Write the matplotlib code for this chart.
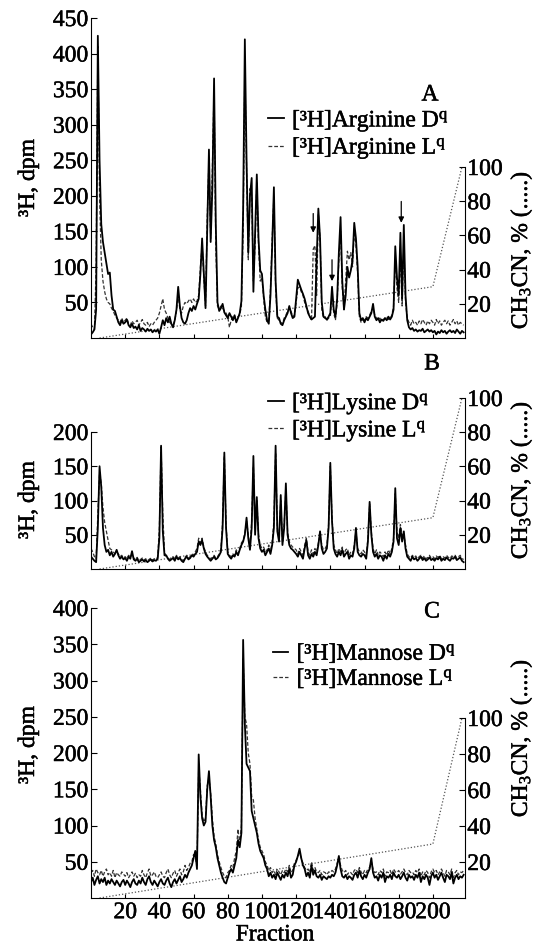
import numpy as np
import matplotlib
matplotlib.use("Agg")
import matplotlib.pyplot as plt
import matplotlib.patheffects as pe

plt.rcParams['font.family'] = ['Liberation Serif', 'DejaVu Serif']
plt.rcParams['mathtext.fontset'] = 'custom'
plt.rcParams['mathtext.rm'] = 'Liberation Serif'
plt.rcParams['mathtext.it'] = 'Liberation Serif:italic'

# ---------------- data ----------------
fractions = list(range(0, 219))

arg_D = [5, 8, 12, 40, 425, 250, 160, 135, 120, 105, 90, 92, 60, 40, 38, 30, 22, 18, 25, 20,
         22, 26, 18, 15, 20, 14, 16, 12, 18, 10, 14, 12, 9, 13, 10, 12, 8, 11, 9, 12,
         6, 15, 25, 18, 28, 22, 30, 20, 15, 25, 40, 72, 45, 28, 22, 20, 25, 35, 42, 38,
         45, 40, 48, 55, 90, 140, 90, 42, 150, 265, 135, 210, 365, 160, 50, 38, 42, 48, 36, 32,
         28, 35, 30, 25, 32, 22, 28, 35, 52, 180, 420, 250, 120, 200, 225, 65, 150, 230, 140, 95,
         90, 60, 40, 25, 20, 60, 130, 212, 80, 30, 28, 20, 18, 25, 30, 35, 45, 35, 28, 30,
         55, 82, 75, 68, 62, 55, 45, 35, 30, 26, 28, 30, 110, 182, 140, 50, 30, 28, 26, 30,
         35, 72, 40, 30, 55, 120, 170, 80, 40, 60, 100, 85, 95, 110, 162, 140, 100, 35, 25, 28,
         22, 28, 25, 30, 35, 48, 30, 25, 28, 22, 26, 24, 28, 25, 30, 26, 30, 40, 129, 85,
         60, 148, 55, 159, 60, 25, 15, 12, 14, 10, 12, 9, 11, 10, 13, 8, 10, 12, 9, 11,
         8, 10, 5, 9, 7, 11, 8, 10, 6, 9, 11, 8, 10, 7, 12, 9, 6, 10, 8]
arg_L = [20, 15, 12, 100, 410, 200, 110, 80, 65, 55, 50, 48, 42, 38, 32, 28, 25, 22, 28, 22,
         25, 28, 20, 18, 24, 20, 22, 25, 18, 22, 26, 20, 18, 22, 16, 20, 18, 22, 25, 28,
         35, 45, 55, 40, 35, 28, 22, 20, 18, 25, 38, 60, 40, 35, 45, 50, 48, 52, 55, 50,
         55, 50, 52, 60, 100, 130, 85, 45, 170, 250, 140, 240, 350, 130, 45, 40, 45, 42, 38, 35,
         30, 15, 25, 30, 28, 25, 30, 32, 45, 150, 380, 240, 110, 210, 200, 80, 130, 220, 130, 80,
         85, 55, 30, 22, 25, 70, 140, 200, 70, 28, 25, 22, 20, 28, 32, 38, 42, 38, 30, 32,
         50, 70, 72, 65, 60, 50, 42, 38, 30, 25, 125, 130, 60, 175, 140, 40, 28, 30, 25, 28,
         30, 60, 35, 25, 50, 110, 150, 70, 40, 80, 122, 110, 120, 100, 150, 130, 90, 30, 22, 25,
         25, 30, 28, 32, 38, 42, 32, 28, 25, 28, 24, 26, 28, 30, 26, 28, 32, 45, 110, 70,
         50, 120, 45, 130, 50, 28, 22, 18, 25, 20, 22, 18, 24, 20, 26, 22, 18, 24, 20, 25,
         22, 18, 26, 20, 24, 18, 22, 25, 20, 24, 18, 22, 26, 20, 24, 18, 22, 20, 18]

lys_D = [18, 15, 12, 10, 60, 150, 120, 60, 35, 25, 28, 20, 25, 18, 22, 28, 20, 15, 18, 14,
         16, 12, 18, 15, 26, 14, 12, 15, 10, 12, 14, 11, 13, 10, 12, 14, 11, 13, 12, 15,
         45, 180, 55, 20, 20, 15, 12, 14, 16, 12, 18, 14, 16, 12, 10, 15, 18, 14, 16, 20,
         18, 22, 25, 40, 35, 42, 30, 22, 18, 15, 12, 15, 18, 14, 16, 20, 25, 60, 170, 60,
         22, 18, 15, 20, 18, 25, 20, 28, 35, 40, 50, 75, 45, 28, 60, 165, 50, 105, 45, 30,
         25, 28, 20, 25, 30, 22, 35, 60, 180, 55, 40, 108, 35, 60, 125, 50, 35, 30, 28, 25,
         22, 18, 25, 20, 15, 30, 42, 20, 15, 22, 18, 25, 20, 35, 55, 30, 22, 25, 30, 60,
         155, 70, 30, 22, 18, 25, 20, 28, 18, 22, 25, 15, 20, 18, 30, 60, 25, 20, 18, 22,
         20, 15, 40, 98, 50, 25, 18, 22, 15, 20, 18, 12, 20, 15, 22, 18, 25, 40, 118, 45,
         35, 60, 40, 55, 30, 18, 15, 12, 18, 14, 16, 12, 15, 18, 13, 16, 12, 14, 17, 13,
         15, 12, 16, 14, 18, 12, 15, 13, 17, 14, 12, 16, 15, 18, 13, 15, 17, 12, 10]
lys_L = [30, 25, 18, 15, 80, 140, 125, 90, 68, 55, 42, 30, 28, 25, 22, 25, 22, 18, 20, 16,
         18, 15, 20, 17, 22, 16, 14, 17, 12, 14, 16, 13, 15, 12, 14, 16, 13, 15, 14, 17,
         60, 178, 80, 25, 18, 16, 14, 16, 18, 14, 20, 16, 18, 14, 12, 17, 20, 16, 18, 22,
         20, 25, 30, 45, 38, 45, 32, 25, 20, 17, 15, 17, 20, 16, 18, 22, 28, 70, 165, 65,
         25, 20, 18, 22, 20, 28, 22, 30, 38, 42, 52, 70, 50, 32, 70, 150, 60, 100, 50, 35,
         30, 32, 25, 28, 35, 25, 40, 70, 170, 60, 45, 100, 40, 65, 115, 55, 40, 35, 32, 30,
         28, 22, 30, 25, 20, 35, 45, 25, 20, 28, 22, 30, 25, 38, 50, 35, 28, 30, 35, 65,
         150, 75, 35, 28, 22, 30, 25, 32, 22, 28, 30, 20, 25, 22, 35, 55, 30, 25, 22, 28,
         25, 20, 45, 95, 55, 30, 22, 28, 20, 25, 22, 18, 25, 20, 28, 22, 30, 45, 110, 55,
         45, 65, 50, 50, 35, 22, 18, 16, 20, 17, 19, 15, 18, 20, 16, 19, 15, 17, 20, 16,
         18, 15, 19, 17, 20, 15, 18, 16, 20, 17, 15, 19, 18, 20, 16, 18, 20, 15, 14]

man_D = [22, 28, 18, 25, 30, 20, 26, 22, 28, 18, 24, 20, 26, 22, 18, 24, 20, 16, 22, 25,
         18, 24, 20, 15, 22, 26, 20, 18, 24, 20, 28, 22, 18, 26, 30, 22, 18, 24, 20, 16,
         22, 26, 20, 18, 24, 28, 20, 15, 22, 26, 20, 25, 30, 22, 26, 32, 28, 35, 40, 45,
         55, 65, 40, 198, 140, 110, 100, 105, 150, 175, 140, 100, 80, 70, 55, 45, 35, 28, 22, 20,
         28, 35, 40, 35, 45, 55, 80, 70, 90, 356, 240, 185, 180, 175, 120, 110, 100, 90, 75, 65,
         60, 55, 45, 40, 30, 35, 28, 32, 26, 35, 30, 25, 32, 28, 35, 30, 40, 28, 32, 45,
         50, 58, 68, 55, 45, 40, 30, 35, 28, 45, 32, 38, 30, 28, 32, 25, 30, 28, 26, 30,
         28, 32, 30, 35, 45, 58, 40, 30, 28, 32, 26, 30, 28, 25, 32, 35, 28, 38, 30, 26,
         32, 28, 35, 40, 55, 35, 28, 30, 24, 32, 28, 35, 22, 30, 28, 32, 26, 35, 30, 28,
         32, 26, 30, 35, 28, 24, 32, 28, 30, 25, 32, 28, 35, 22, 30, 26, 32, 28, 18, 30,
         35, 28, 32, 25, 30, 35, 28, 22, 32, 30, 26, 35, 20, 28, 32, 26, 30, 28, 32]
man_L = [35, 38, 30, 40, 35, 32, 38, 30, 36, 40, 32, 35, 30, 38, 28, 35, 32, 30, 36, 33,
         30, 35, 28, 32, 36, 30, 34, 28, 32, 30, 38, 32, 28, 35, 40, 30, 32, 36, 30, 28,
         32, 36, 30, 28, 35, 40, 32, 28, 34, 38, 30, 35, 40, 32, 36, 45, 38, 42, 48, 50,
         60, 55, 45, 180, 150, 115, 105, 110, 155, 165, 145, 110, 85, 75, 60, 50, 42, 35, 30, 28,
         35, 38, 45, 42, 55, 65, 95, 75, 100, 330, 250, 240, 200, 185, 140, 135, 110, 95, 80, 70,
         65, 60, 50, 45, 38, 42, 35, 38, 32, 40, 36, 32, 38, 35, 40, 36, 45, 35, 38, 48,
         52, 58, 62, 55, 48, 42, 38, 40, 35, 50, 38, 42, 36, 35, 38, 32, 36, 35, 32, 36,
         35, 38, 36, 40, 48, 55, 45, 38, 35, 38, 32, 36, 35, 32, 38, 40, 35, 42, 36, 32,
         38, 35, 40, 42, 50, 40, 35, 36, 32, 38, 35, 40, 30, 36, 35, 38, 32, 40, 36, 35,
         38, 33, 36, 40, 35, 32, 38, 35, 36, 32, 38, 35, 40, 30, 36, 32, 38, 35, 28, 36,
         40, 35, 38, 32, 36, 40, 35, 30, 38, 36, 32, 40, 28, 35, 38, 32, 36, 35, 38]

# acetonitrile gradient (%)
grad_x = [5, 200, 217]
grad_y = [0, 30, 100]

# arrows in panel A: (fraction, tail value, head value)
arrow_f = [130, 141, 181.5]
arrow_from = [175, 110, 192]
arrow_to = [148, 80, 162]

xticks = [20, 40, 60, 80, 100, 120, 140, 160, 180, 200]

panels = [
    dict(D=arg_D, L=arg_L, name="Arginine", letter="A", yticks=[50, 100, 150, 200, 250, 300, 350, 400, 450],
         px=(18, 338), rtop_px=167, leg=(0.475, 0.72), letter_px=(430, 95), ylab_y=178, rlab_y=250),
    dict(D=lys_D, L=lys_L, name="Lysine", letter="B", yticks=[50, 100, 150, 200],
         px=(398, 569), rtop_px=398, leg=(0.475, 1.045), letter_px=(432, 364), ylab_y=500, rlab_y=480),
    dict(D=man_D, L=man_L, name="Mannose", letter="C", yticks=[50, 100, 150, 200, 250, 300, 350, 400],
         px=(608, 898), rtop_px=718, leg=(0.487, 0.885), letter_px=(432, 612), ylab_y=745, rlab_y=738),
]

W, H = 538, 944
fig = plt.figure(figsize=(W / 100, H / 100), dpi=100)
FS = 17
x_left, x_right = 91, 464.5
ink = [pe.withStroke(linewidth=0.35, foreground='black')]

for i, p in enumerate(panels):
    top, bot = p['px']
    ax = fig.add_axes([x_left / W, 1 - bot / H, (x_right - x_left) / W, (bot - top) / H])
    ax.set_xlim(0, 218.5)
    ax2 = ax.twinx()
    ax2.set_zorder(0)
    ax.set_zorder(1)
    ax.patch.set_visible(False)

    ax.plot(fractions, p['L'], color='#333333', lw=0.9, ls=(0, (3, 1.6)), zorder=2)
    ax.plot(fractions, p['D'], color='black', lw=1.3, zorder=3)

    ax2.plot(grad_x, grad_y, color='#555555', lw=0.9, ls=(0, (1, 1.6)))

    if p['letter'] == 'A':
        ax.set_ylim(0, 450)
    elif p['letter'] == 'B':
        ax.set_ylim(0, 200 * (bot - top) / (569 - 432))
    else:
        ax.set_ylim(0, 400)
    ax2.set_ylim(0, 100 * (bot - top) / (bot - p['rtop_px']))

    ax.set_yticks(p['yticks'])
    ax2.set_yticks([20, 40, 60, 80, 100])
    ax.set_xticks(xticks)

    for a in (ax, ax2):
        a.spines['top'].set_visible(False)
        for s in a.spines.values():
            s.set_linewidth(0.8)
    ax.spines['right'].set_visible(False)
    ax2.spines['left'].set_visible(False)
    ax2.spines['bottom'].set_visible(False)
    ax.spines['left'].set_bounds(0, p['yticks'][-1])
    ax2.spines['right'].set_bounds(0, 100)

    ax.tick_params(axis='y', direction='in', length=4, width=0.8, labelsize=FS, pad=2)
    ax.tick_params(axis='x', direction='in', length=3, width=0.8, labelsize=FS, pad=3)
    ax2.tick_params(axis='y', direction='in', length=4, width=0.8, labelsize=FS, pad=2)
    if i < 2:
        ax.tick_params(axis='x', labelbottom=False)
    for t in ax.get_xticklabels() + ax.get_yticklabels() + ax2.get_yticklabels():
        t.set_path_effects(ink)

    leg = ax.legend([ax.lines[1], ax.lines[0]],
                    ["[³H]%s D$^{\\mathrm{q}}$" % p['name'], "[³H]%s L$^{\\mathrm{q}}$" % p['name']],
                    loc='upper left', bbox_to_anchor=p['leg'], frameon=False, fontsize=FS,
                    handlelength=0.65, handletextpad=0.35, labelspacing=0.05,
                    borderpad=0, borderaxespad=0)
    for t in leg.get_texts():
        t.set_path_effects(ink)

    if p['letter'] == 'A':
        for f, a0, a1 in zip(arrow_f, arrow_from, arrow_to):
            ax.annotate('', xy=(f, a1), xytext=(f, a0),
                        arrowprops=dict(arrowstyle='-|>', color='black', lw=0.9,
                                        mutation_scale=8, shrinkA=0, shrinkB=0))

    lx, ly = p['letter_px']
    fig.text(lx / W, 1 - ly / H, p['letter'], fontsize=FS, ha='center', va='center', path_effects=ink)
    fig.text(28 / W, 1 - p['ylab_y'] / H, "³H, dpm", fontsize=FS, rotation=90, ha='center', va='center',
             path_effects=ink)
    fig.text(521 / W, 1 - p['rlab_y'] / H, "CH$_3$CN, % (.....)", fontsize=FS, rotation=90,
             ha='center', va='center', path_effects=ink)

fig.text(275 / W, 1 - 935 / H, "Fraction", fontsize=FS, ha='center', va='center', path_effects=ink)

fig.savefig("out.png", dpi=100)
